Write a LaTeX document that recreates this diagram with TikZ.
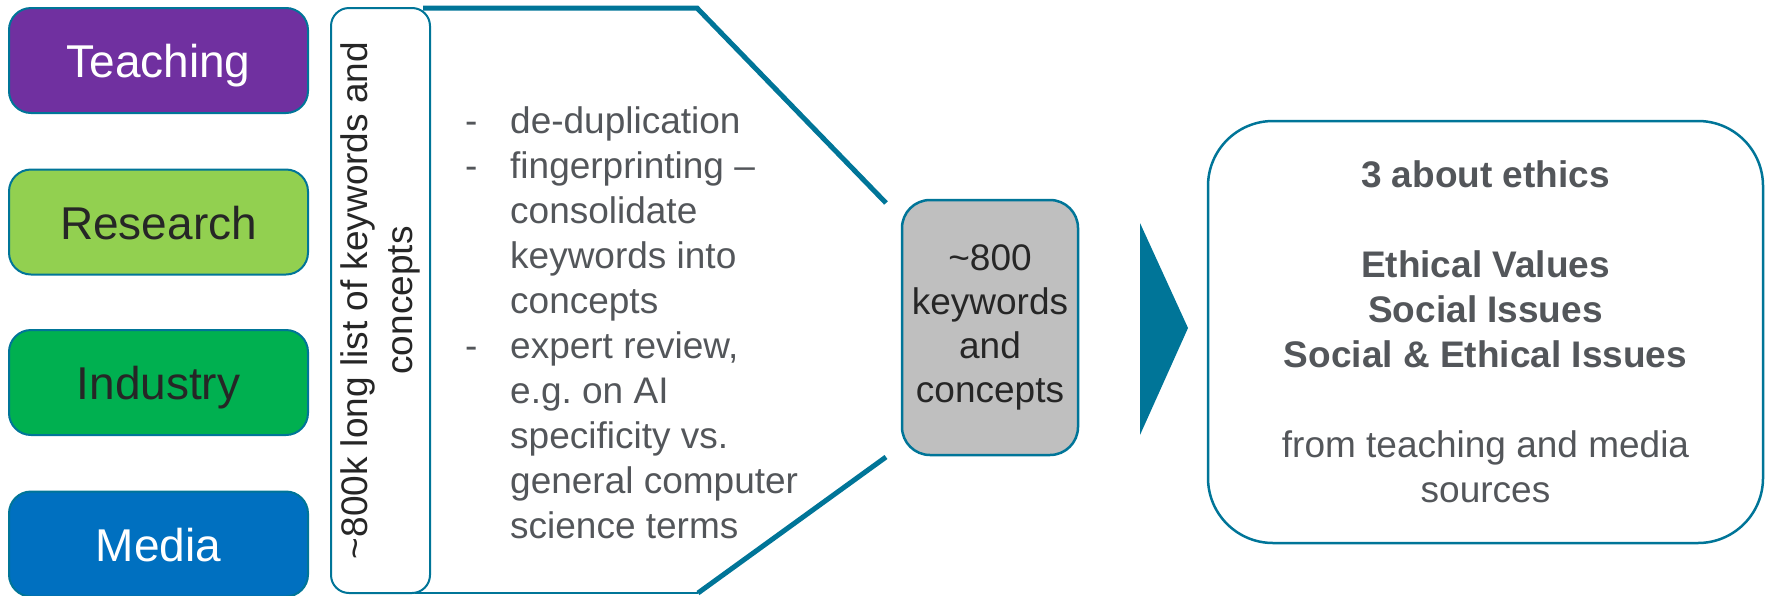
\documentclass[tikz,border=0pt]{standalone}
\usepackage{fontspec}
\setmainfont{Liberation Sans}
\frenchspacing

\definecolor{mypurple}{RGB}{112,48,160}
\definecolor{mylightgreen}{RGB}{146,208,80}
\definecolor{mygreen}{RGB}{0,176,80}
\definecolor{myblue}{RGB}{0,112,192}
\definecolor{myteal}{RGB}{0,117,152}
\definecolor{mygray}{RGB}{191,191,191}
\definecolor{mytextgray}{RGB}{83,86,90}
\definecolor{mydarktext}{RGB}{38,38,38}

\begin{document}
\begin{tikzpicture}[x=1pt,y=-1pt,
    source/.style={draw=myteal,line width=2pt,rounded corners=22pt,
      minimum width=299pt,minimum height=105pt,inner sep=0pt,
      text height=34pt,text depth=0pt,
      font=\fontsize{46}{55}\selectfont},
    box/.style={draw=myteal,line width=2pt,inner sep=0pt,align=center,
      font=\fontsize{37}{45}\selectfont}]
  \useasboundingbox (0,0) rectangle (1768,595);
  % the four sources
  \node[source,fill=mypurple,text=white]         (teach) at (158.5, 60.5) {Teaching};
  \node[source,fill=mylightgreen,text=mydarktext] (resrch) at (158.5,222.0) {Research};
  \node[source,fill=mygreen,text=mydarktext]      (indus) at (158.5,382.5) {Industry};
  \node[source,fill=myblue,text=white]           (media) at (158.5,544.0) {Media};
  % long list, turned on its side
  \node[box,fill=white,rounded corners=18pt,rotate=90,text=mydarktext,
        minimum width=585pt,minimum height=99pt] (longlist) at (380.5,300.5)
    {\textasciitilde800k long list of keywords and\\concepts};
  % funnel outline
  \coordinate (ftop)  at (423,8);
  \coordinate (ftopc) at (697,8);
  \coordinate (ftope) at (886,203);
  \coordinate (fbote) at (886,457);
  \coordinate (fbotc) at (698,593);
  \coordinate (fbot)  at (415,593);
  \draw[myteal,line width=5pt] (ftop) -- (ftopc) -- (ftope);
  \draw[myteal,line width=5pt] (fbote) -- (fbotc);
  \draw[myteal,line width=2pt] (fbotc) -- (fbot);
  % steps inside the funnel
  \node[anchor=north west,inner sep=0pt,align=left,text=mytextgray,
        font=\fontsize{37}{45}\selectfont] (steps) at (465,106)
    {\makebox[45pt][l]{-}de-duplication\\
     \makebox[45pt][l]{-}fingerprinting –\\
     \hspace*{45pt}consolidate\\
     \hspace*{45pt}keywords into\\
     \hspace*{45pt}concepts\\
     \makebox[45pt][l]{-}expert review,\\
     \hspace*{45pt}e.g. on AI\\
     \hspace*{45pt}specificity vs.\\
     \hspace*{45pt}general computer\\
     \hspace*{45pt}science terms};
  % short list
  \node[box,fill=mygray,line width=2.5pt,rounded corners=28pt,text=mydarktext,
        minimum width=176pt,minimum height=255pt,
        font=\fontsize{37}{44}\selectfont] (shortlist) at (990,327.5)
    {\textasciitilde800\\keywords\\and\\concepts};
  % big arrow
  \fill[myteal] (1140,223) -- (1188,328) -- (1140,435) -- cycle;
  % result
  \node[box,fill=white,line width=2.5pt,rounded corners=65pt,text=mytextgray,
        minimum width=555pt,minimum height=422pt] (result) at (1485.5,332)
    {\textbf{3 about ethics}\\[45pt]
     \textbf{Ethical Values}\\
     \textbf{Social Issues}\\
     \textbf{Social \& Ethical Issues}\\[45pt]
     from teaching and media\\
     sources};
\end{tikzpicture}
\end{document}
